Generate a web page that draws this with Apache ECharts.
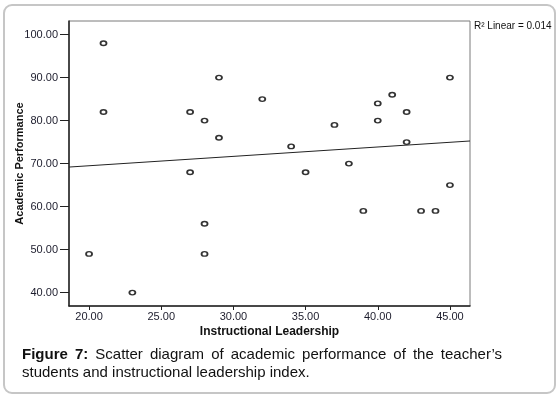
<!DOCTYPE html>
<html>
<head>
<meta charset="utf-8">
<script src="https://cdn.jsdelivr.net/npm/echarts@6/dist/echarts.min.js"></script>
<style>
    body { margin: 0; background: #fff; }
    #wrap { position: relative; width: 559px; height: 398px; overflow: hidden; }
    #frame { position: absolute; left: 3px; top: 4px; width: 549px; height: 386px;
             border: 2px solid #c6c6c6; border-radius: 9px; }
    #chart { position: absolute; left: 0; top: 0; width: 559px; height: 398px; }
    #caption { position: absolute; left: 22px; top: 345px; width: 480px;
               font-family: 'Liberation Sans', Arial, sans-serif; font-size: 15px;
               line-height: 18px; color: #111; text-align: justify; }
</style>
</head>
<body>
<div id="wrap">
    <div id="frame"></div>
    <div id="chart"></div>
    <div id="caption"><b>Figure 7:</b> Scatter diagram of academic performance of the teacher’s students and instructional leadership index.</div>
</div>
<script>
// 数据：教学领导力 (x) 与 学业成绩 (y)
var leadership = [21, 21, 20, 23, 27, 27, 28, 28, 28, 29, 29, 32, 34, 35, 37, 38, 39, 40, 40, 41, 42, 42, 43, 44, 45, 45];
var performance = [98, 82, 49, 40, 82, 68, 80, 56, 49, 90, 76, 85, 74, 68, 79, 70, 59, 84, 80, 86, 82, 75, 59, 59, 90, 65];
var xTicks = [20, 25, 30, 35, 40, 45];
var yTicks = [40, 50, 60, 70, 80, 90, 100];
var r2Label = 'R² Linear = 0.014';

var xMin = 18.61, xMax = 46.39;
var yMin = 36.88, yMax = 103.16;

var chart = echarts.init(document.getElementById('chart'));

// 最小二乘拟合线
function linearFit(xs, ys) {
    var n = xs.length, mx = 0, my = 0;
    for (var i = 0; i < n; i++) { mx += xs[i]; my += ys[i]; }
    mx /= n; my /= n;
    var sxy = 0, sxx = 0;
    for (var j = 0; j < n; j++) {
        sxy += (xs[j] - mx) * (ys[j] - my);
        sxx += (xs[j] - mx) * (xs[j] - mx);
    }
    var b = sxy / sxx;
    return { a: my - b * mx, b: b };
}
var fit = linearFit(leadership, performance);
var fitLine = [[xMin, fit.a + fit.b * xMin], [xMax, fit.a + fit.b * xMax]];

var points = leadership.map(function (x, i) { return [x, performance[i]]; });

var font = "'Liberation Sans', Arial, sans-serif";

var option = {
    animation: false,
    grid: {
        left: 69, top: 21, right: 89, bottom: 92,
        outerBoundsMode: 'none', containLabel: false,
        show: true, borderColor: '#7a7a7a', borderWidth: 1, backgroundColor: 'transparent'
    },
    xAxis: {
        type: 'value', min: xMin, max: xMax,
        name: 'Instructional Leadership', nameLocation: 'middle', nameGap: 20,
        nameMoveOverlap: false,
        nameTextStyle: { color: '#111', fontFamily: font, fontSize: 12, fontWeight: 'bold' },
        axisLine: { show: true, lineStyle: { color: '#222', width: 1.5 } },
        axisTick: { show: true, length: 4, customValues: xTicks, lineStyle: { color: '#222' } },
        axisLabel: {
            customValues: xTicks, margin: 5, color: '#1c1c2c', fontFamily: font, fontSize: 11,
            formatter: function (v) { return v.toFixed(2); }
        },
        splitLine: { show: false }
    },
    yAxis: {
        type: 'value', min: yMin, max: yMax,
        name: 'Academic Performance', nameLocation: 'middle', nameGap: 44, nameRotate: 90,
        nameMoveOverlap: false,
        nameTextStyle: { color: '#111', fontFamily: font, fontSize: 11, fontWeight: 'bold' },
        axisLine: { show: true, lineStyle: { color: '#222', width: 1.5 } },
        axisTick: { show: true, length: 9, customValues: yTicks, lineStyle: { color: '#222' } },
        axisLabel: {
            customValues: yTicks, margin: 11, color: '#1c1c2c', fontFamily: font, fontSize: 11,
            formatter: function (v) { return v.toFixed(2); }
        },
        splitLine: { show: false }
    },
    graphic: [{
        type: 'text', left: 474, top: 21,
        style: { text: r2Label, fill: '#111', font: '10px ' + font }
    }],
    series: [
        {
            type: 'line', data: fitLine, symbol: 'none', silent: true,
            lineStyle: { color: '#222', width: 1 }
        },
        {
            type: 'scatter', data: points, symbol: 'circle', symbolSize: [6, 4.5],
            itemStyle: { color: '#fff', borderColor: '#000', borderWidth: 1.6 }
        }
    ]
};

chart.setOption(option);
</script>
</body>
</html>
